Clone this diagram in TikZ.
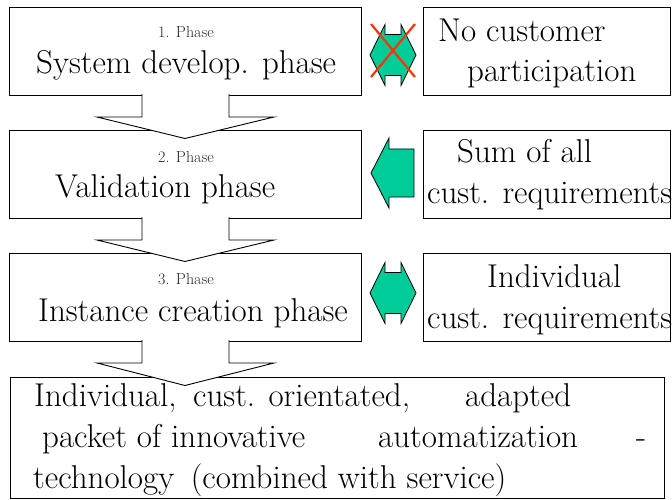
\documentclass[tikz,border=0pt]{standalone}
\usepackage{xcolor}
\usepackage{tikz}
\usetikzlibrary{positioning, calc}
\definecolor{custgreen}{RGB}{0,204,153}
\definecolor{crossred}{RGB}{255,51,0}
\tikzstyle{phasebox} = [rectangle, minimum width=352pt, minimum height=88pt, inner sep=0pt, outer sep=0pt, draw=black, line width=0.9pt]
\tikzstyle{custbox} = [rectangle, minimum width=247pt, minimum height=88pt, inner sep=0pt, outer sep=0pt, draw=black, line width=0.9pt]
\tikzstyle{resbox} = [rectangle, minimum width=654pt, minimum height=121pt, inner sep=0pt, outer sep=0pt, draw=black, line width=0.9pt]
\tikzstyle{txt} = [inner sep=0pt, anchor=base west, font=\fontsize{33}{40}\selectfont]
\tikzstyle{phasenum} = [inner sep=0pt, anchor=base, text=black!85, font=\fontsize{16}{19}\selectfont]
\tikzstyle{flow} = [fill=white, draw=black, line width=0.9pt]
\tikzstyle{custarrow} = [fill=custgreen, draw=black, line width=0.8pt]
\tikzstyle{cross} = [draw=crossred, line width=2.2pt]

\begin{document}
\begin{tikzpicture}[x=1pt, y=-1pt]
		\useasboundingbox (0,0) rectangle (672,500);
		\node (p1)[phasebox] at (185,51) {};
		\node (p2)[phasebox, below=35pt of p1] {};
		\node (p3)[phasebox, below=35pt of p2] {};
		\node (c1)[custbox, right=62pt of p1] {};
		\node (c2)[custbox, right=62pt of p2] {};
		\node (c3)[custbox, right=62pt of p3] {};
		\node (res)[resbox] at (337,437.5) {};
		\foreach \a/\b in {p1/p2, p2/p3, p3/res}
			\draw [flow] ($(\a.south)+(-43,-1)$) -- ++(0,23) -- ++(-45,0) -- ($(\a.south |- \b.north)+(0,8.5)$) -- ($(\a.south)+(89,22)$) -- ++(-45,0) -- ++(0,-23);
		\coordinate (m1) at (393,55);
		\coordinate (m2) at (392,173);
		\coordinate (m3) at (393,293);
		\foreach \m in {m1, m3}
			\draw [custarrow] (\m) ++(-23,0) -- ++(15,-30.5) -- ++(0,10) -- ++(16,0) -- ++(0,-10) -- ++(15,30.5) -- ++(-15,30.5) -- ++(0,-10) -- ++(-16,0) -- ++(0,10) -- cycle;
		\draw [custarrow] (m2) ++(-21,0) -- ++(18,-35) -- ++(0,11) -- ++(25,0) -- ++(0,48) -- ++(-25,0) -- ++(0,11) -- cycle;
		\draw [cross] ($(m1)+(-22,-31)$) -- ($(m1)+(22,22)$);
		\draw [cross] ($(m1)+(22,-31)$) -- ($(m1)+(-22,22)$);
		\node (p1num)[phasenum] at (186,38) {1. Phase};
		\node (p1name)[txt] at (36,74) {System develop. phase};
		\node (p2num)[phasenum] at (186,162) {2. Phase};
		\node (p2name)[txt] at (55,197) {Validation phase};
		\node (p3num)[phasenum] at (186,284) {3. Phase};
		\node (p3name)[txt] at (38,321) {Instance creation phase};
		\node (c1a)[txt] at (438,42) {No customer};
		\node (c1b)[txt] at (467,82) {participation};
		\node (c2a)[txt] at (457,163) {Sum of all};
		\node (c2b)[txt] at (427,204) {cust. requirements};
		\node (c3a)[txt] at (487,287) {Individual};
		\node (c3b)[txt] at (427,328) {cust. requirements};
		\node (res1a)[txt] at (34,406) {Individual,\hspace{0.2em} cust. orientated,};
		\node (res1b)[txt] at (465,406) {adapted};
		\node (res2a)[txt] at (42,447) {packet of innovative};
		\node (res2b)[txt] at (378,447) {automatization};
		\node (res2c)[txt] at (636,447) {-};
		\node (res3)[txt] at (33,488) {technology\hspace{0.2em} (combined with service)};
	\end{tikzpicture}
\end{document}
